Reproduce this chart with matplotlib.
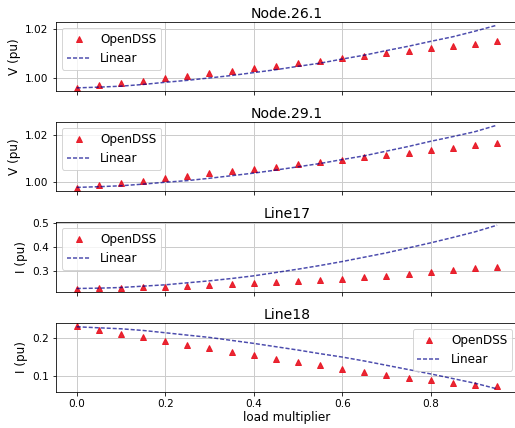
import matplotlib
matplotlib.use("Agg")
import matplotlib.pyplot as plt
import numpy as np

load_mult = [0.0, 0.05, 0.1, 0.15, 0.2, 0.25, 0.3, 0.35, 0.4, 0.45,
             0.5, 0.55, 0.6, 0.65, 0.7, 0.75, 0.8, 0.85, 0.9, 0.95]

node26_dss = [0.9959, 0.9970, 0.9980, 0.9989, 1.0000, 1.0010, 1.0020, 1.0030, 1.0039, 1.0049,
              1.0061, 1.0071, 1.0082, 1.0091, 1.0102, 1.0112, 1.0122, 1.0132, 1.0141, 1.0152]
node26_lin = [0.9959, 0.9962, 0.9966, 0.9973, 0.9982, 0.9990, 1.0000, 1.0010, 1.0022, 1.0034,
              1.0048, 1.0061, 1.0078, 1.0094, 1.0113, 1.0131, 1.0151, 1.0170, 1.0193, 1.0218]

node29_dss = [0.9973, 0.9985, 0.9994, 1.0004, 1.0014, 1.0025, 1.0035, 1.0045, 1.0055, 1.0064,
              1.0074, 1.0084, 1.0094, 1.0105, 1.0115, 1.0124, 1.0134, 1.0144, 1.0154, 1.0164]
node29_lin = [0.9975, 0.9978, 0.9982, 0.9989, 0.9997, 1.0004, 1.0014, 1.0025, 1.0036, 1.0049,
              1.0063, 1.0077, 1.0094, 1.0110, 1.0130, 1.0150, 1.0172, 1.0192, 1.0213, 1.0241]

line17_dss = [0.2245, 0.2260, 0.2287, 0.2315, 0.2330, 0.2357, 0.2385, 0.2427, 0.2469, 0.2524,
              0.2580, 0.2622, 0.2678, 0.2734, 0.2804, 0.2874, 0.2944, 0.3014, 0.3098, 0.3168]
line17_lin = [0.2259, 0.2273, 0.2300, 0.2357, 0.2413, 0.2497, 0.2580, 0.2678, 0.2790, 0.2930,
              0.3070, 0.3224, 0.3390, 0.3573, 0.3755, 0.3965, 0.4175, 0.4400, 0.4636, 0.4916]

line18_dss = [0.2307, 0.2202, 0.2105, 0.2009, 0.1912, 0.1816, 0.1719, 0.1623, 0.1535, 0.1439,
              0.1351, 0.1272, 0.1184, 0.1096, 0.1026, 0.0947, 0.0877, 0.0816, 0.0763, 0.0719]
line18_lin = [0.2290, 0.2263, 0.2237, 0.2193, 0.2132, 0.2070, 0.2009, 0.1930, 0.1851, 0.1763,
              0.1675, 0.1579, 0.1490, 0.1386, 0.1272, 0.1158, 0.1044, 0.0921, 0.0798, 0.0649]

titles = ["Node.26.1", "Node.29.1", "Line17", "Line18"]
ylabels = ["V (pu)", "V (pu)", "I (pu)", "I (pu)"]
dss_series = [node26_dss, node29_dss, line17_dss, line18_dss]
lin_series = [node26_lin, node29_lin, line17_lin, line18_lin]
yticks = [[1.00, 1.02], [1.00, 1.02], [0.3, 0.4, 0.5], [0.1, 0.2]]
xticks = [0.0, 0.2, 0.4, 0.6, 0.8]
legend_locs = ["upper left", "upper left", "upper left", "upper right"]

W, H = 515, 428
dpi = 72
fig = plt.figure(figsize=(W / dpi, H / dpi), dpi=dpi)
fig.patch.set_facecolor("white")

# axes boxes in pixels (top, bottom)
boxes = [(22, 91), (122, 191), (222, 292), (323, 392)]
left_px, right_px = 55.7, 518.1

axes = []
for i, (t, b) in enumerate(boxes):
    ax = fig.add_axes([left_px / W, 1 - b / H, (right_px - left_px) / W, (b - t) / H],
                      sharex=axes[0] if axes else None)
    axes.append(ax)
    ax.plot(load_mult, dss_series[i], linestyle="none", marker="^", markersize=6,
            color="#e8101e", alpha=0.9, label="OpenDSS")
    ax.plot(load_mult, lin_series[i], linestyle=(0, (2.7, 1.3)), linewidth=1.5,
            color="darkblue", alpha=0.7, label="Linear")
    ax.set_title(titles[i], fontsize=14, pad=4)
    ax.set_ylabel(ylabels[i], fontsize=12)
    ax.set_yticks(yticks[i])
    ax.grid(True, color="#cccccc", linewidth=1.0)
    ax.set_axisbelow(True)
    ax.tick_params(labelsize=10.5)
    ax.legend(loc=legend_locs[i], fontsize=12)
    if i < 3:
        ax.tick_params(labelbottom=False)

axes[0].set_xticks(xticks)
axes[-1].set_xlabel("load multiplier", fontsize=12, labelpad=2)

fig.savefig("out.png", dpi=dpi, facecolor="white")
